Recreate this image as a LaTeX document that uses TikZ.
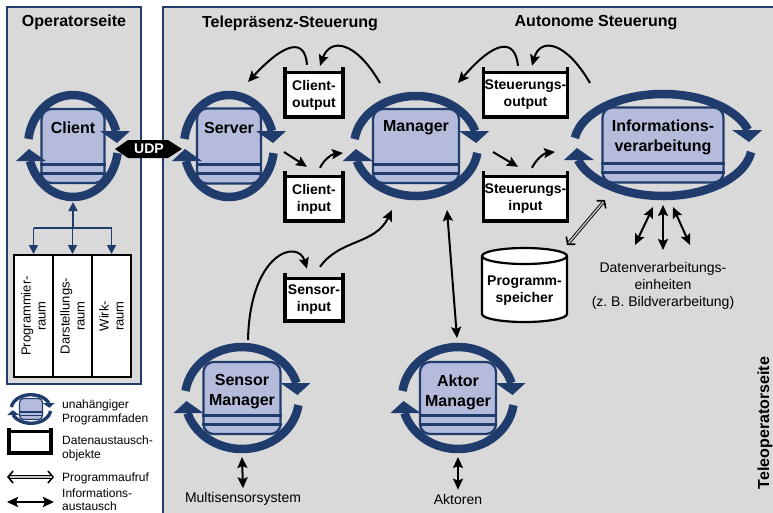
\documentclass[tikz,border=0pt]{standalone}
\usepackage{fontspec}
\setmainfont{Liberation Sans}
\usetikzlibrary{arrows.meta,calc}

\definecolor{ringblue}{HTML}{1F3C6D}
\definecolor{panelgray}{HTML}{D9D9D9}
\definecolor{boxfill}{HTML}{B5BBDB}

\tikzset{
  panel/.style={draw=ringblue, line width=2pt, fill=panelgray},
  title/.style={font=\bfseries\fontsize{16}{19}\selectfont, inner sep=1pt},
  tbox/.style={draw=ringblue, fill=boxfill, inner sep=0pt},
  tsep/.style={draw=ringblue},
  ring/.style={draw=ringblue, line cap=butt},
  tlabel/.style={font=\bfseries\fontsize{16}{20}\selectfont, align=center, inner sep=1pt},
  dobj/.style={fill=white, inner sep=0pt, align=center, font=\bfseries\fontsize{14}{17}\selectfont},
  dwall/.style={line width=3.5pt, line join=miter},
  dbar/.style={line width=3pt},
  plain/.style={font=\fontsize{14}{17}\selectfont, align=center, inner sep=1pt},
  legtext/.style={font=\fontsize{12}{14}\selectfont, align=left, anchor=west, inner sep=1pt},
  tabcol/.style={draw=black, fill=white, line width=2pt, minimum width=39pt, minimum height=122pt, inner sep=0pt},
  tabtext/.style={font=\fontsize{13}{15}\selectfont, align=center, rotate=90, inner sep=1pt},
  conn/.style={line width=2pt, -{Stealth[length=11pt,width=10pt,inset=2pt]}},
  biconn/.style={line width=2pt, {Stealth[length=11pt,width=10pt,inset=2pt]}-{Stealth[length=11pt,width=10pt,inset=2pt]}},
  callbarb/.style={line width=1.6pt, {Straight Barb[length=5pt,width=12pt]}-{Straight Barb[length=5pt,width=12pt]}},
  callbody/.style={line width=0.9pt, double=gray!45, double distance=1.4pt, shorten <=2.5pt, shorten >=2.5pt},
  treeline/.style={draw=ringblue, line width=1.8pt},
  treeconn/.style={treeline, -{Triangle[length=9pt,width=9pt]}},
  udptext/.style={text=white, font=\bfseries\fontsize{14}{16}\selectfont, inner sep=1pt},
}

% one half of the circulating arrow: arc over the top plus its head
\newcommand\RingHalf[3]{%
  \pgfmathsetmacro\rte{asin(15*#3/#2)}%
  \pgfmathsetmacro\rxe{#1*cos(\rte)}%
  \pgfmathsetmacro\rlw{8.5*#3}%
  \draw[ring, line width=\rlw pt] (172:#1pt and #2pt)
    arc[start angle=172, end angle=\rte, x radius=#1pt, y radius=#2pt];
  \fill[ringblue] ({\rxe-16*#3},{15*#3}) -- ({\rxe+14*#3},{15*#3}) -- ({\rxe+#3},{3*#3}) -- cycle;
}

% program thread: name, centre, ring radii, box size, scale, label offset, label
\newcommand\Thread[9]{%
  \begin{scope}[shift={#2}]
    \pgfmathsetmacro\thrc{10*#7}%
    \pgfmathsetmacro\thbw{2*#7+0.3}%
    \pgfmathsetmacro\thsw{2.5*#7+0.2}%
    \pgfmathsetmacro\thla{20*#7}%
    \pgfmathsetmacro\thlb{11*#7}%
    \node[tbox, minimum width=#5pt, minimum height=#6pt, rounded corners=\thrc pt, line width=\thbw pt] (#1) at (0,0) {};
    \draw[tsep, line width=\thsw pt] ([yshift=\thla pt]#1.south west) -- ([yshift=\thla pt]#1.south east);
    \draw[tsep, line width=\thsw pt] ([yshift=\thlb pt]#1.south west) -- ([yshift=\thlb pt]#1.south east);
    \RingHalf{#3}{#4}{#7}
    \begin{scope}[rotate=180]\RingHalf{#3}{#4}{#7}\end{scope}
    \node[tlabel] (#1-l) at (0,#8) {#9};
  \end{scope}}

% data exchange object: name, centre, width, height, text, wall overhang
\newcommand\DataObj[6]{%
  \node[dobj, minimum width=#3pt, minimum height=#4pt] (#1) at #2 {#5};
  \draw[dwall] ([yshift=#6pt]#1.north west) -- (#1.south west) -- (#1.south east) -- ([yshift=#6pt]#1.north east);
  \draw[dbar] (#1.north west) -- (#1.north east);
}

% program call: open barbs at both ends of a hollow double line
\newcommand\CallArrow[2]{%
  \draw[callbarb] #1 -- #2;
  \draw[callbody] #1 -- #2;
}

\begin{document}
\frenchspacing
\begin{tikzpicture}[x=1pt,y=1pt]
\useasboundingbox (0,0) rectangle (773,-512);
\clip (0,0) rectangle (773,-512);
\fill[white] (0,0) rectangle (773,-512);

% panels
\draw[panel] (7,-7) rectangle (141,-384);
\draw[panel] (163,-7) rectangle (800,-540);

% headings
\node[title] (t-op) at (74,-22) {Operatorseite};
\node[title] (t-tele) at (290,-23) {Telepräsenz-Steuerung};
\node[title] (t-auto) at (596,-23) {Autonome Steuerung};
\node[title, rotate=90] (t-teleop) at (765,-423) {Teleoperatorseite};

% threads
\Thread{client}{(73,-146)}{45}{51}{63}{74}{1}{18}{Client}
\Thread{server}{(229,-146)}{45}{51}{64}{75}{1}{18}{Server}
\Thread{manager}{(416,-146)}{62}{50}{86}{74}{1}{18}{Manager}
\Thread{info}{(663,-145)}{89}{51}{121}{75}{1}{7.5}{Informations-\\verarbeitung}
\Thread{sensor}{(242,-398)}{57}{51}{77}{72}{1}{6}{Sensor\\Manager}
\Thread{aktor}{(458,-398)}{56}{51}{76}{72}{1}{6}{Aktor\\Manager}

% data exchange objects
\DataObj{cout}{(314,-95)}{58}{44}{Client-\\output}{6}
\DataObj{cin}{(314,-199)}{58}{44}{Client-\\input}{6}
\DataObj{sout}{(525.5,-95)}{84}{44}{Steuerungs-\\output}{6}
\DataObj{sin}{(525.5,-199)}{84}{44}{Steuerungs-\\input}{6}
\DataObj{senin}{(314,-300)}{58}{42}{Sensor-\\input}{6}

% program store
\coordinate (cylc) at (524.5,-285);
\path[fill=white, draw=black, line width=2.2pt] ($(cylc)+(-42.5,29)$) -- ($(cylc)+(-42.5,-29)$)
  arc[start angle=180, end angle=360, x radius=42.5pt, y radius=8pt] -- ($(cylc)+(42.5,29)$)
  arc[start angle=0, end angle=180, x radius=42.5pt, y radius=8pt] -- cycle;
\draw[line width=2.2pt] ($(cylc)+(-42.5,29)$) arc[start angle=180, end angle=360, x radius=42.5pt, y radius=8pt];
\node[dobj, fill=none] (speicher) at ($(cylc)+(0,-6)$) {Programm-\\speicher};

% plain labels
\node[plain] (dv) at (663,-286) {Datenverarbeitungs-\\einheiten\\(z. B. Bildverarbeitung)};
\node[plain] (mss) at (243,-499) {Multisensorsystem};
\node[plain] (akt) at (458,-499) {Aktoren};

% operator workspaces
\node[tabcol] (tp) at (33.5,-316) {};
\node[tabcol] (td) at (72.5,-316) {};
\node[tabcol] (tw) at (111.5,-316) {};
\node[tabtext] (tp-t) at (tp) {Programmier-\\raum};
\node[tabtext] (td-t) at (td) {Darstellungs-\\raum};
\node[tabtext] (tw-t) at (tw) {Wirk-\\raum};

\coordinate (fork) at ($(client)+(0,-82)$);
\draw[treeconn] (fork) -- ($(client)+(0,-56)$);
\draw[treeline] (fork -| tp) -- (fork -| tw);
\foreach \c in {tp,td,tw} \draw[treeconn] (fork -| \c) -- (\c.north);

% connectors
\draw[conn] ($(manager)+(-36,63)$) .. controls +(-25,43) and +(10,28) .. ($(cout.north)+(6,7)$);
\draw[conn] ($(cout.north)+(-7,8)$) .. controls +(-2,27) and +(37,40) .. ($(server)+(19,64)$);
\draw[conn] ($(server)+(55,-6)$) -- ($(cin.north)+(-7,10)$);
\draw[conn] ($(cin.north)+(6,9)$) .. controls +(5,10) and +(-10,-1) .. ($(manager)+(-73,-7)$);
\draw[conn] ($(sout.north)+(-7.5,7)$) .. controls +(-3,28) and +(37,43) .. ($(manager)+(42,63)$);
\draw[conn] ($(info)+(-73,62)$) .. controls +(-25,43) and +(8,28) .. ($(sout.north)+(6.5,7)$);
\draw[conn] ($(manager)+(77,-6)$) -- ($(sin.north)+(-7.5,10)$);
\draw[conn] ($(sin.north)+(6.5,9)$) .. controls +(5,10) and +(-10,-1) .. ($(info)+(-108,-7)$);
\draw[conn] ($(sensor)+(6,58)$) .. controls +(2,88) and +(-9,30) .. ($(senin.north)+(-7,10)$);
\draw[conn] ($(senin.north)+(6,12)$) .. controls +(20,28) and +(-17,-35) .. ($(manager)+(-24,-64)$);
\draw[biconn] ($(manager)+(31,-64)$) -- ($(aktor)+(-1,60)$);
\CallArrow{($(speicher)+(42.5,46)$)}{($(info)+(-58,-55)$)}
\draw[biconn] ($(info)+(-10,-62)$) -- ($(dv)+(-28,41)$);
\draw[biconn] ($(info)+(0,-60)$) -- ($(dv)+(0,36)$);
\draw[biconn] ($(info)+(10,-62)$) -- ($(dv)+(27,41)$);
\draw[biconn] ($(sensor)+(0,-59)$) -- ($(mss.north)+(0,3)$);
\draw[biconn] ($(aktor)+(0,-59)$) -- ($(akt.north)+(0,3)$);

% UDP link between client and server
\coordinate (udpc) at (148,-149);
\fill ($(udpc)+(-33,0)$) -- ($(udpc)+(-20,9)$) -- ($(udpc)+(20,9)$) -- ($(udpc)+(34,0)$)
  -- ($(udpc)+(20,-9)$) -- ($(udpc)+(-20,-9)$) -- cycle;
\node[udptext] (udp) at ($(udpc)+(1,0)$) {UDP};

% legend
\Thread{legthread}{(31,-409)}{19.8}{14.3}{23}{21}{0.4}{0}{}
\node[legtext] (leg1) at (61,-412) {unahängiger\\Programmfaden};
\DataObj{legobj}{(30,-442.5)}{42}{21}{}{4}
\node[legtext] (leg2) at (61,-448) {Datenaustausch-\\objekte};
\coordinate (pa1) at (7,-477);
\coordinate (pa2) at (54,-477);
\CallArrow{(pa1)}{(pa2)}
\node[legtext] (leg3) at (61,-478) {Programmaufruf};
\coordinate (pb1) at (7,-502);
\coordinate (pb2) at (54,-502);
\draw[biconn, line width=2.6pt] (pb1) -- (pb2);
\node[legtext, font=\fontsize{12}{13}\selectfont] (leg4) at (61,-499.5) {Informations-\\austausch};
\end{tikzpicture}
\end{document}
